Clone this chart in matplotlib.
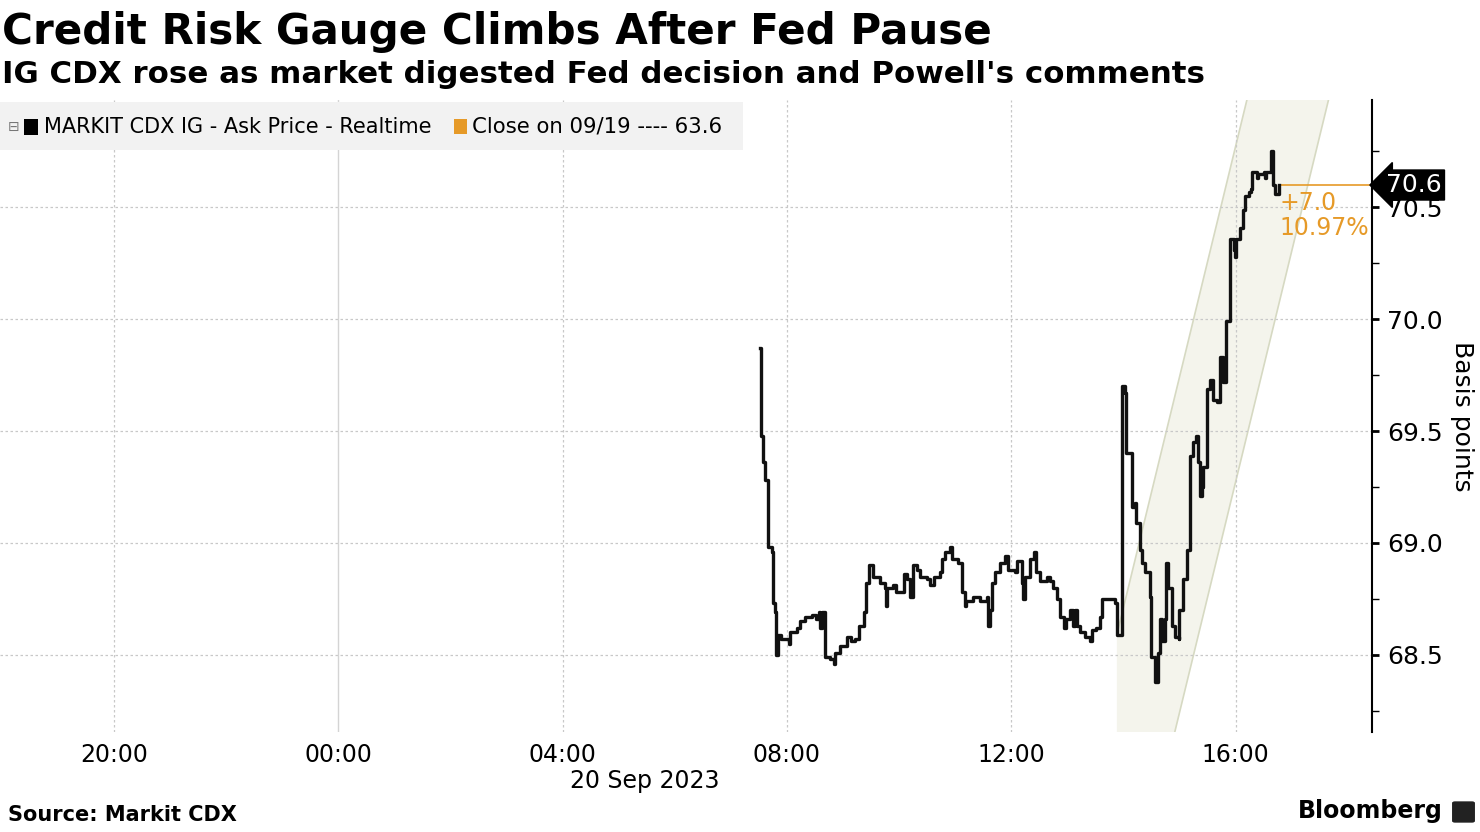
import matplotlib

matplotlib.use("Agg")
import matplotlib.dates as mdates
import matplotlib.pyplot as plt
import pandas as pd
from matplotlib.patches import FancyBboxPatch, Rectangle
from matplotlib.ticker import FixedLocator
from matplotlib.transforms import blended_transform_factory

DAY = "2023-09-20"

# MARKIT CDX IG ask price, step series (time on 20 Sep, level in bp)
TIMES = [
    "07:31", "07:32", "07:34", "07:37", "07:40", "07:44", "07:45", "07:47", "07:48", "07:50",
    "07:54", "08:02", "08:03", "08:11", "08:14", "08:19", "08:27", "08:31", "08:34", "08:35",
    "08:37", "08:41", "08:46", "08:50", "08:51", "08:57", "09:04", "09:09", "09:13", "09:17",
    "09:22", "09:25", "09:28", "09:32", "09:40", "09:45", "09:46", "09:47", "09:54", "09:57",
    "10:05", "10:08", "10:12", "10:15", "10:19", "10:22", "10:30", "10:33", "10:37", "10:44",
    "10:46", "10:49", "10:54", "10:57", "11:03", "11:07", "11:11", "11:12", "11:19", "11:27",
    "11:34", "11:35", "11:37", "11:39", "11:43", "11:48", "11:53", "11:57", "12:04", "12:06",
    "12:11", "12:13", "12:15", "12:20", "12:24", "12:27", "12:31", "12:38", "12:41", "12:45",
    "12:49", "12:52", "12:56", "12:59", "13:03", "13:06", "13:08", "13:10", "13:14", "13:19",
    "13:24", "13:26", "13:31", "13:35", "13:37", "13:51", "13:53", "13:59", "14:02", "14:03",
    "14:09", "14:12", "14:13", "14:18", "14:20", "14:23", "14:28", "14:30", "14:34", "14:37",
    "14:39", "14:41", "14:44", "14:46", "14:48", "14:52", "14:55", "14:59", "15:00", "15:04",
    "15:08", "15:11", "15:15", "15:18", "15:20", "15:22", "15:24", "15:25", "15:29", "15:33",
    "15:36", "15:40", "15:43", "15:47", "15:50", "15:54", "15:58", "15:59", "16:01", "16:05",
    "16:08", "16:10", "16:14", "16:17", "16:18", "16:23", "16:24", "16:30", "16:31", "16:33",
    "16:37", "16:38", "16:40", "16:42", "16:46", "16:47",
]
VALUES = [
    69.87, 69.48, 69.36, 69.28, 68.98, 68.96, 68.73, 68.69, 68.50, 68.59,
    68.57, 68.55, 68.60, 68.62, 68.65, 68.67, 68.68, 68.66, 68.69, 68.62,
    68.69, 68.49, 68.48, 68.46, 68.51, 68.54, 68.58, 68.56, 68.57, 68.63,
    68.69, 68.82, 68.90, 68.85, 68.82, 68.80, 68.72, 68.80, 68.81, 68.78,
    68.86, 68.84, 68.76, 68.90, 68.88, 68.85, 68.84, 68.81, 68.85, 68.87,
    68.93, 68.96, 68.98, 68.93, 68.91, 68.78, 68.72, 68.74, 68.76, 68.74,
    68.76, 68.63, 68.70, 68.82, 68.87, 68.91, 68.94, 68.88, 68.87, 68.92,
    68.82, 68.75, 68.85, 68.93, 68.96, 68.87, 68.83, 68.85, 68.83, 68.80,
    68.75, 68.67, 68.62, 68.66, 68.70, 68.63, 68.70, 68.63, 68.60, 68.58,
    68.56, 68.61, 68.62, 68.67, 68.75, 68.73, 68.59, 69.70, 69.67, 69.40,
    69.16, 69.18, 69.09, 68.97, 68.91, 68.87, 68.76, 68.49, 68.38, 68.51,
    68.66, 68.56, 68.66, 68.91, 68.80, 68.63, 68.58, 68.57, 68.70, 68.84,
    68.97, 69.39, 69.45, 69.48, 69.36, 69.21, 69.25, 69.34, 69.69, 69.73,
    69.64, 69.63, 69.83, 69.72, 69.99, 70.36, 70.31, 70.28, 70.36, 70.41,
    70.49, 70.55, 70.57, 70.58, 70.66, 70.63, 70.65, 70.66, 70.63, 70.66,
    70.66, 70.75, 70.60, 70.56, 70.60, 70.60,
]

LAST_VALUE = 70.6
PREV_CLOSE = 63.6
CHANGE_TEXT = "+7.0\n10.97%"

# trend channel drawn on the chart (start / end of upper and lower edges)
CHANNEL_TIMES = ["2023-09-20 13:53", "2023-09-20 18:26"]
CHANNEL_UPPER = [68.59, 73.28]
CHANNEL_LOWER = [67.09, 71.78]

X_START = "2023-09-19 17:58"
X_END = "2023-09-20 18:26"
Y_MIN, Y_MAX = 68.155, 70.98
Y_MAJOR = [68.5, 69.0, 69.5, 70.0, 70.5]
Y_MINOR = [68.25, 68.75, 69.25, 69.75, 70.25, 70.75]

ORANGE = "#E69A28"
GRID = "#c8c8c8"

W, H = 1480, 832
fig = plt.figure(figsize=(W / 100, H / 100), dpi=100)
ax = fig.add_axes([0.0, 1 - 732 / H, 1372 / W, 632 / H])

ts = pd.to_datetime([f"{DAY} {t}" for t in TIMES])
ch_t = pd.to_datetime(CHANNEL_TIMES)

ax.fill_between(ch_t, CHANNEL_LOWER, CHANNEL_UPPER, color="#f4f4ec", lw=0, zorder=0.5)
ax.plot(ch_t, CHANNEL_UPPER, color="#d6d9c2", lw=1.2, zorder=0.6)
ax.plot(ch_t, CHANNEL_LOWER, color="#d6d9c2", lw=1.2, zorder=0.6)

ax.plot(ts, VALUES, drawstyle="steps-post", color="#111111", lw=2.4, zorder=3)

x0, x1 = pd.Timestamp(X_START), pd.Timestamp(X_END)
ax.set_xlim(x0, x1)
ax.set_ylim(Y_MIN, Y_MAX)

# grid
for y in Y_MAJOR:
    ax.axhline(y, color=GRID, lw=0.9, ls=(0, (2, 2)), zorder=1)
hour_ticks = pd.date_range("2023-09-19 20:00", "2023-09-20 16:00", freq="4h")
for t in hour_ticks:
    if t.hour == 0:
        ax.axvline(t, color="#d4d4d4", lw=1.0, zorder=1)
    else:
        ax.axvline(t, color=GRID, lw=0.9, ls=(0, (2, 2)), zorder=1)

ax.xaxis.set_major_locator(FixedLocator(mdates.date2num(hour_ticks)))
ax.xaxis.set_major_formatter(mdates.DateFormatter("%H:%M"))
ax.tick_params(axis="x", length=0, pad=8, labelsize=17)

ax.yaxis.tick_right()
ax.yaxis.set_label_position("right")
ax.set_yticks(Y_MAJOR)
ax.set_yticklabels([f"{v:.1f}" for v in Y_MAJOR])
ax.set_yticks(Y_MINOR, minor=True)
ax.tick_params(axis="y", which="major", length=5, width=2, pad=6, labelsize=18, direction="out")
ax.tick_params(axis="y", which="minor", length=5, width=1, direction="out")
ax.set_ylabel("Basis points", rotation=270, fontsize=18, labelpad=22)

for side in ["top", "left", "bottom"]:
    ax.spines[side].set_visible(False)
ax.spines["right"].set_linewidth(1.5)
ax.patch.set_alpha(0)

# last-price marker, change annotation
ax.plot([ts[-1], x1], [LAST_VALUE, LAST_VALUE], color=ORANGE, lw=1.2, zorder=2, clip_on=False)
ax.annotate(CHANGE_TEXT, (ts[-1], LAST_VALUE), xytext=(0, -4), textcoords="offset points",
            ha="left", va="top", color=ORANGE, fontsize=17, linespacing=1.05)
tr = blended_transform_factory(ax.transAxes, ax.transData)
ax.text(1.01, LAST_VALUE, f"{LAST_VALUE:.1f}", transform=tr, ha="left", va="center",
        color="white", fontsize=18, zorder=6,
        bbox=dict(boxstyle="larrow,pad=0.12", fc="black", ec="black"))

# legend strip
fig.patches.append(Rectangle((0, 1 - 150 / H), 743 / W, 48 / H, transform=fig.transFigure,
                             fc="#f2f2f2", ec="none", zorder=0))
ly = 1 - 127 / H
fig.text(8 / W, ly, "\u229f", fontsize=10, color="#777777", va="center")
fig.patches.append(Rectangle((24 / W, ly - 8 / H), 14 / W, 16 / H, transform=fig.transFigure,
                             fc="black", ec="none"))
fig.text(44 / W, ly, "MARKIT CDX IG - Ask Price - Realtime", fontsize=15, va="center")
fig.patches.append(Rectangle((454 / W, ly - 7 / H), 13 / W, 15 / H, transform=fig.transFigure,
                             fc=ORANGE, ec="none"))
fig.text(472 / W, ly, f"Close on 09/19 ---- {PREV_CLOSE}", fontsize=15.3, va="center")

# titles and footer
fig.text(2 / W, 1 - 11 / H, "Credit Risk Gauge Climbs After Fed Pause", fontsize=30.3,
         fontweight="bold", va="top")
fig.text(2 / W, 1 - 60 / H, "IG CDX rose as market digested Fed decision and Powell's comments",
         fontsize=22.2, fontweight="bold", va="top")
fig.text(645 / W, 1 - 781 / H, "20 Sep 2023", fontsize=17, ha="center", va="center")
fig.text(8 / W, 1 - 815 / H, "Source: Markit CDX", fontsize=15, fontweight="bold", va="center")
fig.text(1443 / W, 1 - 811 / H, "Bloomberg", fontsize=17, fontweight="bold", ha="right",
         va="center")
fig.patches.append(FancyBboxPatch((1455 / W, 1 - 821 / H), 17 / W, 18 / H,
                                  boxstyle="round,pad=0.002", transform=fig.transFigure,
                                  fc="#222222", ec="none"))

fig.savefig("out.png", dpi=100)
